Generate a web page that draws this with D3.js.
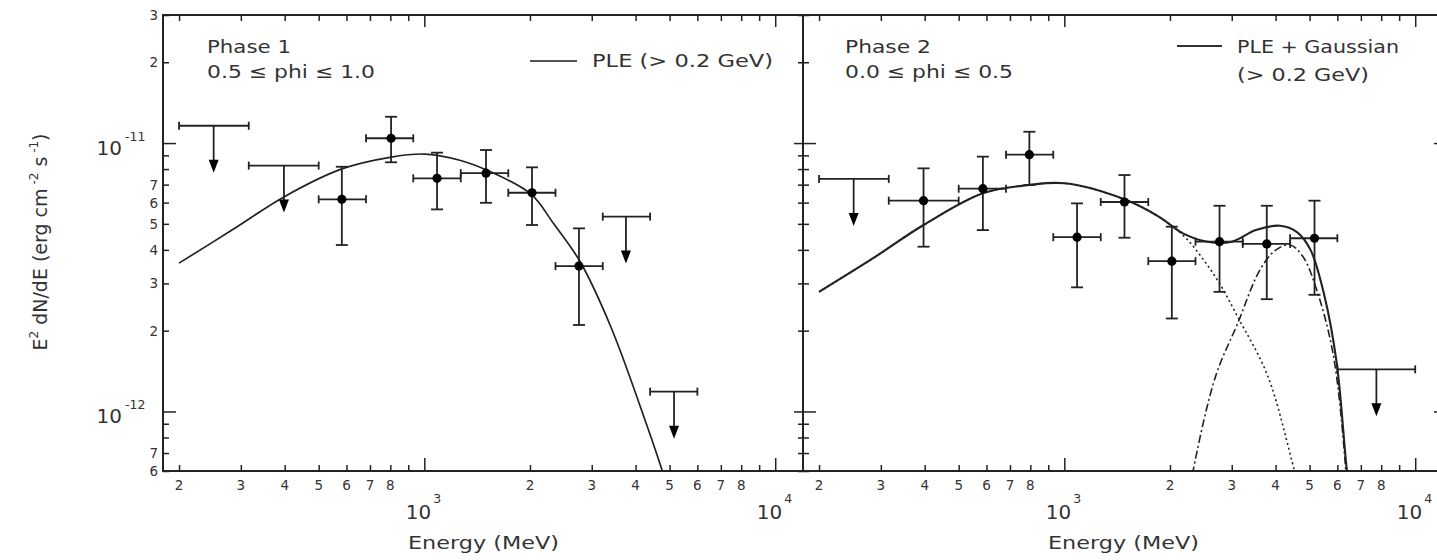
<!DOCTYPE html>
<html><head><meta charset="utf-8">
<script src="https://cdn.jsdelivr.net/npm/d3@7"></script>
<style>
html,body{margin:0;padding:0;background:#fff;}
svg{display:block;font-family:"DejaVu Sans",sans-serif;}
</style></head><body>
<svg id="chart" width="1437" height="560"></svg>
<script>
// ---------------- data ----------------
const xDomain = [180, 12000];
const yDomain = [6e-13, 3e-11];

const xTicks = [200,300,400,500,600,700,800,900,1000,2000,3000,4000,5000,6000,7000,8000,9000,10000];
const xMajor = [1000, 10000];
const xLabelVals = [200,300,400,500,600,700,800,2000,3000,4000,5000,6000,7000,8000];
const xLabelText = ["2","3","4","5","6","7","8","2","3","4","5","6","7","8"];
const xDecadeExp = ["3","4"];

const yTicks = [6e-13,7e-13,8e-13,9e-13,1e-12,2e-12,3e-12,4e-12,5e-12,6e-12,7e-12,8e-12,9e-12,1e-11,2e-11,3e-11];
const yMajor = [1e-12, 1e-11];
const yLabelVals = [6e-13,7e-13,2e-12,3e-12,4e-12,5e-12,6e-12,7e-12,2e-11,3e-11];
const yLabelText = ["6","7","2","3","4","5","6","7","2","3"];
const yDecadeExp = ["-12","-11"];

// Phase 1 detections
const p1E   = [582, 804, 1087, 1499, 2027, 2759];
const p1ELo = [500, 682, 930, 1270, 1735, 2365];
const p1EHi = [682, 930, 1270, 1735, 2365, 3225];
const p1F   = [6.17e-12, 1.042e-11, 7.39e-12, 7.72e-12, 6.53e-12, 3.48e-12];
const p1FLo = [4.17e-12, 8.48e-12, 5.66e-12, 5.99e-12, 4.95e-12, 2.10e-12];
const p1FHi = [8.16e-12, 1.253e-11, 9.21e-12, 9.42e-12, 8.12e-12, 4.81e-12];
// Phase 1 upper limits
const p1UlE   = [251, 398, 3755, 5148];
const p1UlELo = [200, 316, 3225, 4400];
const p1UlEHi = [316, 500, 4400, 6000];
const p1UlF   = [1.16e-11, 8.24e-12, 5.32e-12, 1.185e-12];
// Phase 1 PLE curve
const p1CurveE = [200, 283, 398, 582, 798, 1000, 1255, 1509, 2014, 2338, 2778, 3404, 4255, 4758, 4950];
const p1CurveF = [3.57e-12, 4.74e-12, 6.30e-12, 8.01e-12, 8.85e-12, 9.10e-12, 8.65e-12, 7.92e-12, 6.45e-12, 5.0e-12, 3.62e-12, 2.06e-12, 9.3e-13, 6.05e-13, 5.1e-13];

// Phase 2 detections
const p2E   = [397, 586, 795, 1087, 1484, 2025, 2769, 3775, 5164];
const p2ELo = [316, 500, 682, 930, 1270, 1735, 2365, 3225, 4400];
const p2EHi = [500, 682, 930, 1270, 1735, 2365, 3225, 4400, 6000];
const p2F   = [6.10e-12, 6.76e-12, 9.05e-12, 4.46e-12, 6.03e-12, 3.63e-12, 4.29e-12, 4.21e-12, 4.42e-12];
const p2FLo = [4.11e-12, 4.74e-12, 6.98e-12, 2.90e-12, 4.44e-12, 2.22e-12, 2.79e-12, 2.62e-12, 2.72e-12];
const p2FHi = [8.05e-12, 8.90e-12, 1.102e-11, 5.96e-12, 7.60e-12, 4.88e-12, 5.84e-12, 5.84e-12, 6.10e-12];
// Phase 2 upper limits
const p2UlE   = [251, 7751];
const p2UlELo = [200, 6000];
const p2UlEHi = [316, 10000];
const p2UlF   = [7.35e-12, 1.435e-12];
// Phase 2 total (PLE + Gaussian) curve
const p2TotE = [200, 283, 397, 586, 795, 1004, 1484, 1858, 2178, 2558, 2997, 3515, 4118, 4603, 5031, 5517, 5976, 6387, 6518];
const p2TotF = [2.79e-12, 3.70e-12, 4.95e-12, 6.50e-12, 6.98e-12, 7.08e-12, 6.17e-12, 5.32e-12, 4.61e-12, 4.29e-12, 4.29e-12, 4.74e-12, 4.92e-12, 4.66e-12, 4.00e-12, 2.68e-12, 1.51e-12, 6.05e-13, 5.1e-13];
// Phase 2 PLE component
const p2PleE = [200, 283, 397, 586, 795, 1004, 1484, 1858, 2178, 2457, 2768, 3120, 3805, 4523, 4696];
const p2PleF = [2.79e-12, 3.70e-12, 4.95e-12, 6.50e-12, 6.98e-12, 7.08e-12, 6.17e-12, 5.32e-12, 4.54e-12, 3.77e-12, 3.00e-12, 2.25e-12, 1.35e-12, 6.05e-13, 5.1e-13];
// Phase 2 Gaussian component
const p2GauE = [2281, 2330, 2697, 3120, 3611, 4011, 4398, 4789, 5238, 5829, 6307, 6370];
const p2GauF = [5.1e-13, 6.05e-13, 1.35e-12, 2.13e-12, 3.37e-12, 4.00e-12, 4.17e-12, 3.77e-12, 2.84e-12, 1.65e-12, 6.6e-13, 5.1e-13];

// ---------------- layout ----------------
const TOP = 15, BOTTOM = 471;
const panels = [{x0:163, x1:803}, {x0:803, x1:1443}];
const INK = "#222", TXT = "#333";
const ARROW = 47;

const svg = d3.select("#chart");
const defs = svg.append("defs");
const y = d3.scaleLog().domain(yDomain).range([BOTTOM, TOP]);

function label(parent, x, yy, s, size, len, anchor) {
  const t = parent.append("text").attr("x", x).attr("y", yy)
    .attr("font-size", size).attr("fill", TXT).attr("text-anchor", anchor || "start").text(s);
  if (len) t.attr("textLength", len).attr("lengthAdjust", "spacingAndGlyphs");
  return t;
}

const xs = panels.map((p, i) => {
  const x = d3.scaleLog().domain(xDomain).range([p.x0, p.x1]);
  const g = svg.append("g");
  defs.append("clipPath").attr("id", "clip" + i).append("rect")
    .attr("x", p.x0).attr("y", TOP).attr("width", p.x1 - p.x0).attr("height", BOTTOM - TOP);

  const styleAxis = sel => {
    sel.select(".domain").remove();
    sel.selectAll(".tick text").remove();
    sel.selectAll(".tick line").attr("stroke", INK).attr("stroke-width", 1.5);
  };
  const gb = g.append("g").attr("transform", `translate(0,${BOTTOM})`)
    .call(d3.axisBottom(x).tickValues(xTicks).tickSize(-6).tickSizeOuter(0));
  styleAxis(gb); gb.selectAll(".tick line").attr("y2", d => xMajor.includes(d) ? -13 : -6);
  const gt = g.append("g").attr("transform", `translate(0,${TOP})`)
    .call(d3.axisTop(x).tickValues(xTicks).tickSize(-6).tickSizeOuter(0));
  styleAxis(gt); gt.selectAll(".tick line").attr("y2", d => xMajor.includes(d) ? 12 : 6);
  const gl = g.append("g").attr("transform", `translate(${p.x0},0)`)
    .call(d3.axisLeft(y).tickValues(yTicks).tickSize(-6).tickSizeOuter(0));
  styleAxis(gl); gl.selectAll(".tick line").attr("x2", d => yMajor.includes(d) ? 13 : 6);
  const gr = g.append("g").attr("transform", `translate(${p.x1},0)`)
    .call(d3.axisRight(y).tickValues(yTicks).tickSize(-6).tickSizeOuter(0));
  styleAxis(gr); gr.selectAll(".tick line").attr("x2", d => yMajor.includes(d) ? -9 : -5);

  g.append("rect").attr("x", p.x0).attr("y", TOP).attr("width", p.x1 - p.x0).attr("height", BOTTOM - TOP)
    .attr("fill", "none").attr("stroke", INK).attr("stroke-width", 2);

  xLabelVals.forEach((v, k) => label(g, x(v), 490, xLabelText[k], 13.5, null, "middle"));
  xMajor.forEach((v, k) => {
    label(g, x(v) + 7, 519, "10", 20, null, "end");
    label(g, x(v) + 9, 503, xDecadeExp[k], 12.5, null, "start");
  });
  label(g, (p.x0 + p.x1) / 2 - 75, 549, "Energy (MeV)", 17, 151, "start");
  return x;
});

// y tick labels (left of first panel)
const gy = svg.append("g");
yLabelVals.forEach((v, k) => label(gy, 158, y(v) + 5, yLabelText[k], 13.5, null, "end"));
yMajor.forEach((v, k) => {
  label(gy, 122, y(v) + 12, "10", 20, null, "end");
  label(gy, 125, y(v) - 2, yDecadeExp[k], 12.5, null, "start");
});
// y axis title
const yt = svg.append("text").attr("transform", "translate(47,242) rotate(-90)")
  .attr("text-anchor", "middle").attr("font-size", 19).attr("fill", TXT);
yt.append("tspan").text("E");
yt.append("tspan").attr("dy", -9).attr("font-size", 12).text("2");
yt.append("tspan").attr("dy", 9).text(" dN/dE (erg cm");
yt.append("tspan").attr("dy", -9).attr("font-size", 12).text(" -2");
yt.append("tspan").attr("dy", 9).text(" s");
yt.append("tspan").attr("dy", -9).attr("font-size", 12).text(" -1");
yt.append("tspan").attr("dy", 9).text(")");

// ---------------- marks ----------------
function drawCurve(i, E, F, width, dash) {
  const x = xs[i];
  const line = d3.line().x(d => x(d[0])).y(d => y(d[1])).curve(d3.curveCatmullRom.alpha(0.5));
  svg.append("path").attr("clip-path", `url(#clip${i})`)
    .attr("d", line(d3.zip(E, F))).attr("fill", "none").attr("stroke", INK)
    .attr("stroke-width", width).attr("stroke-dasharray", dash || null);
}

function drawPoints(i, E, lo, hi, F, fLo, fHi) {
  const x = xs[i];
  const g = svg.append("g").attr("stroke", INK).attr("stroke-width", 1.8);
  E.forEach((e, k) => {
    const cx = x(e), cy = y(F[k]);
    const xl = x(lo[k]), xr = x(hi[k]), yt = y(fHi[k]), yb = y(fLo[k]);
    g.append("line").attr("x1", xl).attr("x2", xr).attr("y1", cy).attr("y2", cy);
    g.append("line").attr("x1", xl).attr("x2", xl).attr("y1", cy - 4).attr("y2", cy + 4);
    g.append("line").attr("x1", xr).attr("x2", xr).attr("y1", cy - 4).attr("y2", cy + 4);
    g.append("line").attr("x1", cx).attr("x2", cx).attr("y1", yt).attr("y2", yb);
    g.append("line").attr("x1", cx - 6).attr("x2", cx + 6).attr("y1", yt).attr("y2", yt);
    g.append("line").attr("x1", cx - 6).attr("x2", cx + 6).attr("y1", yb).attr("y2", yb);
    g.append("circle").attr("cx", cx).attr("cy", cy).attr("r", 4.6).attr("fill", "#000").attr("stroke", "none");
  });
}

function drawLimits(i, E, lo, hi, F) {
  const x = xs[i];
  const g = svg.append("g").attr("stroke", INK).attr("stroke-width", 1.8);
  E.forEach((e, k) => {
    const cx = x(e), cy = y(F[k]);
    const xl = x(lo[k]), xr = x(hi[k]);
    g.append("line").attr("x1", xl).attr("x2", xr).attr("y1", cy).attr("y2", cy);
    g.append("line").attr("x1", xl).attr("x2", xl).attr("y1", cy - 4).attr("y2", cy + 4);
    g.append("line").attr("x1", xr).attr("x2", xr).attr("y1", cy - 4).attr("y2", cy + 4);
    g.append("line").attr("x1", cx).attr("x2", cx).attr("y1", cy).attr("y2", cy + ARROW - 10);
    g.append("path").attr("d", `M${cx - 5},${cy + ARROW - 13}L${cx + 5},${cy + ARROW - 13}L${cx},${cy + ARROW}Z`)
      .attr("fill", "#000").attr("stroke", "none");
  });
}

drawCurve(0, p1CurveE, p1CurveF, 1.7);
drawPoints(0, p1E, p1ELo, p1EHi, p1F, p1FLo, p1FHi);
drawLimits(0, p1UlE, p1UlELo, p1UlEHi, p1UlF);

drawCurve(1, p2PleE, p2PleF, 1.6, "2,3");
drawCurve(1, p2GauE, p2GauF, 1.6, "8,3,2,3");
drawCurve(1, p2TotE, p2TotF, 2.1);
drawPoints(1, p2E, p2ELo, p2EHi, p2F, p2FLo, p2FHi);
drawLimits(1, p2UlE, p2UlELo, p2UlEHi, p2UlF);

// ---------------- annotations ----------------
const ga = svg.append("g");
label(ga, 207, 53, "Phase 1", 18, 84);
label(ga, 207, 78, "0.5 \u2264 phi \u2264 1.0", 18, 168);
label(ga, 845, 53, "Phase 2", 18, 86);
label(ga, 845, 78, "0.0 \u2264 phi \u2264 0.5", 18, 168);
ga.append("line").attr("x1", 530).attr("x2", 577).attr("y1", 61).attr("y2", 61).attr("stroke", "#555").attr("stroke-width", 2);
label(ga, 592, 67, "PLE (> 0.2 GeV)", 18, 181);
ga.append("line").attr("x1", 1177).attr("x2", 1222).attr("y1", 46).attr("y2", 46).attr("stroke", "#333").attr("stroke-width", 2);
label(ga, 1237, 53, "PLE + Gaussian", 18, 162);
label(ga, 1237, 81, "(> 0.2 GeV)", 18, 132);
</script>
</body></html>
